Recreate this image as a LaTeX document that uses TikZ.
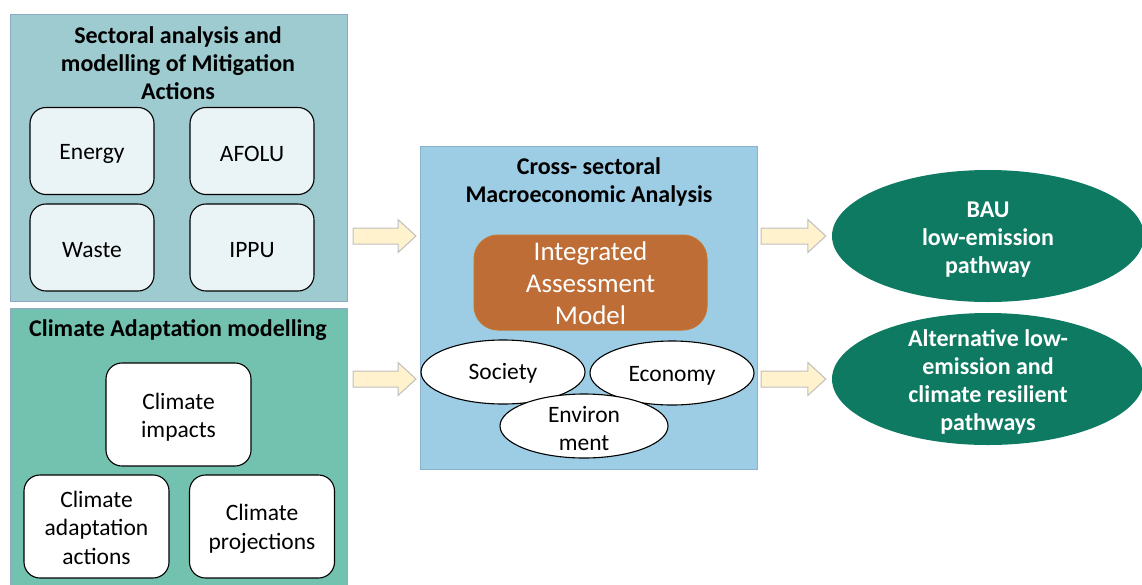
\documentclass[tikz,border=0pt]{standalone}
\usepackage{fontspec}
\setmainfont{Carlito}
\usetikzlibrary{shapes.geometric,calc}

\definecolor{sectfill}{HTML}{9DCBD0}
\definecolor{adaptfill}{HTML}{72C2AF}
\definecolor{crossfill}{HTML}{9DCDE5}
\definecolor{panelline}{HTML}{8EA9C1}
\definecolor{crossline}{HTML}{8DB0CF}
\definecolor{subfill}{HTML}{EAF4F6}
\definecolor{iamfill}{HTML}{BE6D36}
\definecolor{iamline}{HTML}{C5752F}
\definecolor{pathfill}{HTML}{0E7A62}
\definecolor{arrowfill}{HTML}{FFF2CC}
\definecolor{arrowline}{HTML}{BFBFBF}

\newcommand\txtbody{\fontsize{23.5}{28.5}\selectfont}
\newcommand\txttitle{\fontsize{24}{28}\selectfont\bfseries}
\newcommand\txtbig{\fontsize{27}{32}\selectfont}

% hollow block arrow from #1 to #2 (horizontal)
\newcommand\fatarrow[2]{%
  \path[fatarrowstyle] let \p1=(#1), \p2=(#2) in
    (\x1,\y1+8pt) -- (\x2-18pt,\y1+8pt) -- (\x2-18pt,\y1+16.5pt) -- (\x2,\y1)
    -- (\x2-18pt,\y1-16.5pt) -- (\x2-18pt,\y1-8pt) -- (\x1,\y1-8pt) -- cycle;}

\begin{document}
\begin{tikzpicture}[x=1pt,y=-1pt,
  panel/.style={draw=panelline, line width=1.2pt, inner sep=0pt, anchor=north west},
  paneltitle/.style={align=center, font=\txttitle, inner sep=0pt},
  bodytext/.style={align=center, font=\txtbody, inner sep=0pt, yshift=-2.5pt},
  boldtext/.style={align=center, font=\txttitle, inner sep=0pt, text=white, yshift=-3pt},
  bigtext/.style={align=center, font=\txtbig, inner sep=0pt, text=white, yshift=-1pt},
  subbox/.style={draw=black, line width=1.1pt, rounded corners=16pt, fill=subfill,
    minimum width=124pt, minimum height=87pt, inner sep=0pt},
  adaptbox/.style={subbox, fill=white, minimum width=145pt, minimum height=103pt},
  dimension/.style={ellipse, draw=black, line width=1.1pt, fill=white,
    minimum width=164pt, minimum height=64pt, inner sep=0pt},
  pathway/.style={ellipse, fill=pathfill, minimum width=312pt,
    minimum height=132pt, inner sep=0pt},
  fatarrowstyle/.style={draw=arrowline, line width=1pt, fill=arrowfill, line join=miter}]

\useasboundingbox[fill=white] (0,0) rectangle (1142,584);

% ---- Mitigation panel
\node[panel, fill=sectfill, minimum width=337pt, minimum height=287pt] (sect) at (10,14) {};
\node[paneltitle] (secttitle) at (178,63) {Sectoral analysis and\\modelling of Mitigation\\Actions};
\node[subbox, label={[bodytext]center:Energy}] (energy) at (92,151) {};
\node[subbox, label={[bodytext]center:AFOLU}]  (afolu)  at (252,151) {};
\node[subbox, label={[bodytext]center:Waste}]  (waste)  at (92,247.5) {};
\node[subbox, label={[bodytext]center:IPPU}]   (ippu)   at (252,247.5) {};

% ---- Adaptation panel
\node[panel, fill=adaptfill, minimum width=337pt, minimum height=290pt] (adapt) at (10,308) {};
\node[paneltitle] (adapttitle) at (178,330) {Climate Adaptation modelling};
\node[adaptbox, label={[bodytext]center:{Climate\\impacts}}] (impacts) at (178.5,414.5) {};
\node[adaptbox, label={[bodytext, yshift=1.5pt]center:{Climate\\adaptation\\actions}}] (actions) at (96.5,526.5) {};
\node[adaptbox, label={[bodytext]center:{Climate\\projections}}] (proj) at (262,526.5) {};

% ---- Macroeconomic panel
\node[panel, fill=crossfill, draw=crossline, minimum width=337pt, minimum height=323pt] (cross) at (420,146) {};
\node[paneltitle] (crosstitle) at (589,182) {Cross- sectoral\\Macroeconomic Analysis};
\node[draw=iamline, line width=1pt, fill=iamfill, rounded corners=24pt, minimum width=233pt,
  minimum height=95pt, inner sep=0pt, label={[bigtext]center:{Integrated\\Assessment\\Model}}]
  (iam) at (590.5,282.5) {};
\node[dimension, label={[bodytext, yshift=1.5pt]center:Society}] (society) at (503,372) {};
\node[dimension, label={[bodytext]center:Economy}] (economy) at (672,373) {};
\node[dimension, minimum width=168pt, label={[bodytext]center:{Environ\\ment}}] (environ) at (584,426) {};

% ---- Pathways
\node[pathway, label={[boldtext, yshift=-0.5pt]center:{BAU\\low-emission\\pathway}}] (bau) at (988,236) {};
\node[pathway, label={[boldtext]center:{Alternative low-\\emission and\\climate resilient\\pathways}}] (alt) at (988,379) {};

% ---- Block arrows
\coordinate (a1s) at ($(sect.east |- bau.center)+(5,0)$);
\coordinate (a1e) at ($(cross.west |- bau.center)+(-4,0)$);
\coordinate (a2s) at ($(sect.east |- alt.center)+(5,0)$);
\coordinate (a2e) at ($(cross.west |- alt.center)+(-4,0)$);
\coordinate (a3s) at ($(cross.east |- bau.center)+(3,0)$);
\coordinate (a3e) at ($(bau.west)+(-6,0)$);
\coordinate (a4s) at ($(cross.east |- alt.center)+(3,0)$);
\coordinate (a4e) at ($(alt.west)+(-6,0)$);
\fatarrow{a1s}{a1e}
\fatarrow{a2s}{a2e}
\fatarrow{a3s}{a3e}
\fatarrow{a4s}{a4e}
\end{tikzpicture}
\end{document}
